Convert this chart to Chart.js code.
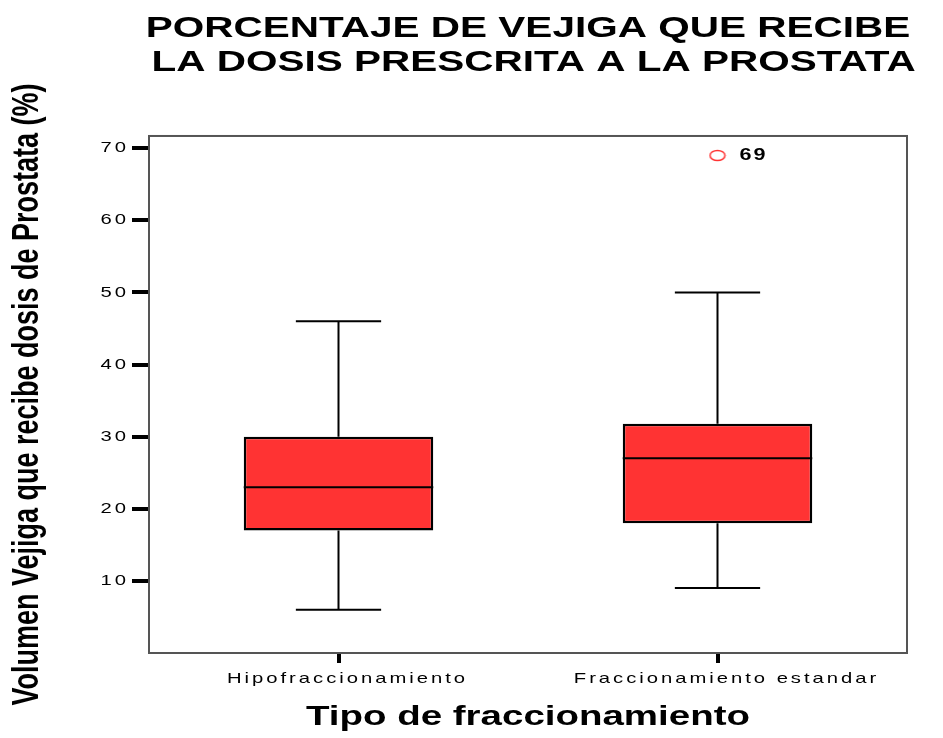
<!DOCTYPE html>
<html lang="es">
<head>
  <meta charset="UTF-8">
  <title>Porcentaje de vejiga</title>
  <script src="https://cdn.jsdelivr.net/npm/chart.js"></script>
  <style>
    body {
      margin: 0;
      background: #ffffff;
    }
    canvas {
      display: block;
    }
  </style>
</head>
<body>

<canvas id="boxChart" width="943" height="738"></canvas>

<script>
const categorias = ['Hipofraccionamiento', 'Fraccionamiento estandar'];
const minimos = [6, 9];
const cuartil1 = [17, 18];
const medianas = [23, 27];
const cuartil3 = [30, 31.8];
const maximos = [46, 50];
const atipicos = [null, 69];
const etiquetasAtipicos = [null, '69'];
const ticksY = [10, 20, 30, 40, 50, 60, 70];

const rojo = '#ff3333';
const fuente = "'Liberation Sans', Arial, sans-serif";

const canvas = document.getElementById('boxChart');
const ctx = canvas.getContext('2d');

// el original esta estirado en horizontal: estiramos todos los textos igual
const ESTIRAR = 1.35;
function espaciado(font) {
  if (/(^|\s)15px/.test(font)) return '2.2px';
  if (/(^|\s)16px/.test(font)) return '1.5px';
  return '0px';
}
const fillTextOriginal = ctx.fillText;
ctx.fillText = function (text, x, y) {
  const m = this.getTransform();
  const p = m.transformPoint(new DOMPoint(x, y));
  this.save();
  this.setTransform(new DOMMatrix().translate(p.x, p.y).scale(ESTIRAR, 1).translate(-p.x, -p.y).multiply(m));
  this.letterSpacing = espaciado(this.font);
  fillTextOriginal.call(this, text, x, y);
  this.restore();
};

// circulo del atipico (ovalado como en la imagen)
const puntoAtipico = document.createElement('canvas');
puntoAtipico.width = 18;
puntoAtipico.height = 13;
const pctx = puntoAtipico.getContext('2d');
pctx.strokeStyle = rojo;
pctx.lineWidth = 1.5;
pctx.beginPath();
pctx.ellipse(9, 6.5, 7.5, 5, 0, 0, Math.PI * 2);
pctx.stroke();

const bigotes = {
  id: 'bigotes',
  beforeDatasetsDraw(chart) {
    const x = chart.scales.x, y = chart.scales.y;
    const meta = chart.getDatasetMeta(0);
    const c = chart.ctx;
    c.save();
    c.strokeStyle = '#000';
    c.lineWidth = 2;
    categorias.forEach((cat, i) => {
      const px = x.getPixelForValue(i);
      const media = meta.data[i].width * 0.225;
      const yMin = y.getPixelForValue(minimos[i]);
      const yMax = y.getPixelForValue(maximos[i]);
      c.beginPath();
      c.moveTo(px, yMax);
      c.lineTo(px, y.getPixelForValue(cuartil3[i]));
      c.moveTo(px, yMin);
      c.lineTo(px, y.getPixelForValue(cuartil1[i]));
      c.moveTo(px - media, yMax);
      c.lineTo(px + media, yMax);
      c.moveTo(px - media, yMin);
      c.lineTo(px + media, yMin);
      c.stroke();
    });
    c.restore();
  },
  afterDatasetsDraw(chart) {
    const x = chart.scales.x, y = chart.scales.y;
    const meta = chart.getDatasetMeta(0);
    const c = chart.ctx;
    c.save();
    c.strokeStyle = '#000';
    c.lineWidth = 2;
    categorias.forEach((cat, i) => {
      const bar = meta.data[i];
      const py = y.getPixelForValue(medianas[i]);
      c.beginPath();
      c.moveTo(bar.x - bar.width / 2, py);
      c.lineTo(bar.x + bar.width / 2, py);
      c.stroke();
    });
    c.fillStyle = '#000';
    c.font = 'bold 16px ' + fuente;
    c.textAlign = 'left';
    c.textBaseline = 'middle';
    atipicos.forEach((v, i) => {
      if (v === null) return;
      c.fillText(etiquetasAtipicos[i], x.getPixelForValue(i) + 22, y.getPixelForValue(v));
    });
    c.restore();
  },
  afterDraw(chart) {
    const a = chart.chartArea;
    const c = chart.ctx;
    c.save();
    c.strokeStyle = '#555555';
    c.lineWidth = 2;
    c.strokeRect(a.left, a.top, a.right - a.left, a.bottom - a.top);
    c.restore();
  }
};

Chart.defaults.font.family = fuente;
Chart.defaults.color = '#000';

new Chart(ctx, {
  type: 'bar',
  data: {
    labels: categorias,
    datasets: [{
      data: cuartil1.map((q, i) => [q, cuartil3[i]]),
      backgroundColor: rojo,
      borderColor: '#000',
      borderWidth: 2.5,
      borderSkipped: false,
      barPercentage: 0.5,
      categoryPercentage: 1
    }, {
      type: 'line',
      data: atipicos,
      showLine: false,
      pointStyle: puntoAtipico,
      order: -1
    }]
  },
  plugins: [bigotes],
  options: {
    responsive: false,
    animation: false,
    layout: { padding: { left: 0, right: 36, top: 0, bottom: 0 } },
    plugins: {
      legend: { display: false },
      tooltip: { enabled: false },
      title: {
        display: true,
        fullSize: false,
        text: ['PORCENTAJE DE VEJIGA QUE RECIBE', ' LA DOSIS PRESCRITA A LA PROSTATA'],
        color: '#000',
        font: { size: 30, weight: 'bold', lineHeight: 1.133 },
        padding: { top: 12, bottom: 56 }
      }
    },
    scales: {
      x: {
        afterFit: s => { s.height = 85; },
        border: { display: false },
        grid: { drawOnChartArea: false, offset: false, tickLength: 10, lineWidth: 4, color: '#000' },
        ticks: { font: { size: 15 }, padding: 7, maxRotation: 0, autoSkip: false, labelOffset: 9 },
        title: {
          display: true,
          text: 'Tipo de fraccionamiento',
          font: { size: 28.5, weight: 'bold' },
          padding: { top: 0, bottom: 4 }
        }
      },
      y: {
        min: 0,
        max: 71.7,
        afterFit: s => { s.width = 149; },
        afterBuildTicks: s => { s.ticks = ticksY.map(v => ({ value: v })); },
        border: { display: false },
        grid: { drawOnChartArea: false, tickLength: 17, lineWidth: 4, color: '#000' },
        ticks: { font: { size: 15 }, padding: 3 },
        title: {
          display: true,
          text: 'Volumen Vejiga que recibe dosis de Prostata (%)',
          font: { size: 27, weight: 'bold' },
          padding: { top: 12, bottom: 0 }
        }
      }
    }
  }
});
</script>

</body>
</html>
